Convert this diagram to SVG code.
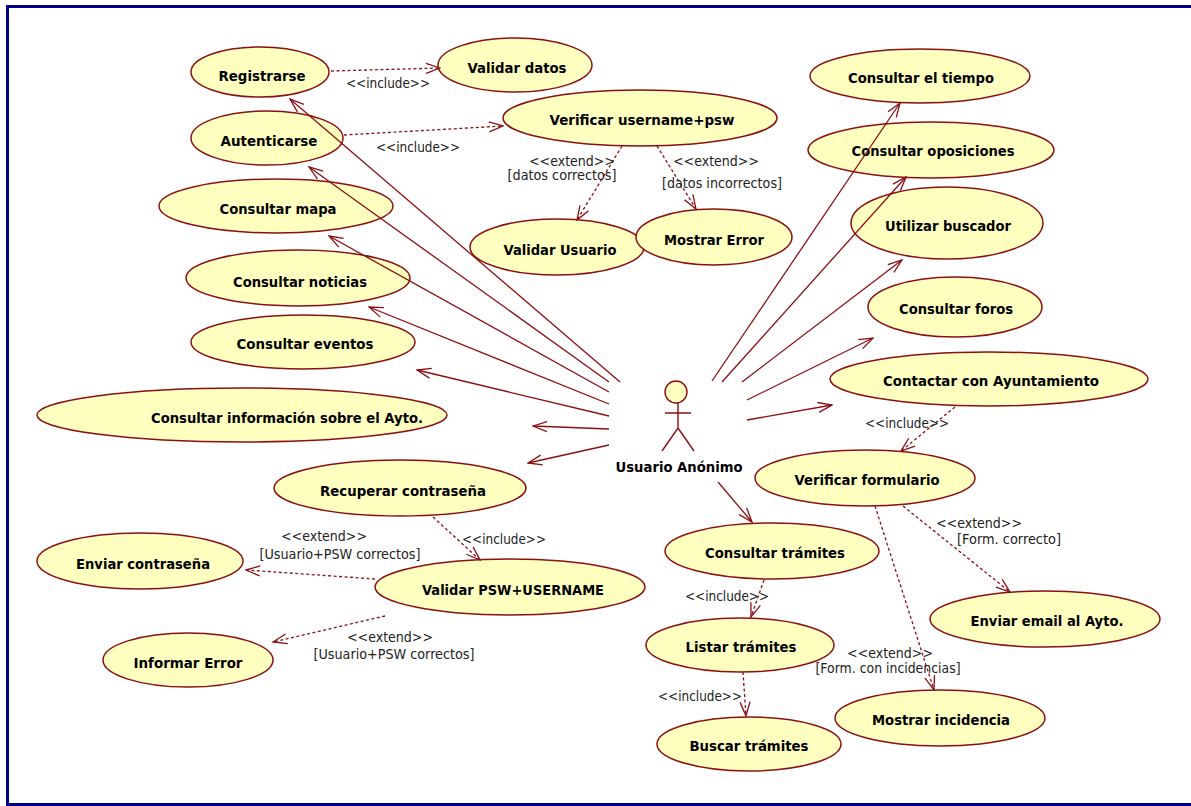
<svg xmlns="http://www.w3.org/2000/svg" width="1191" height="806" viewBox="0 0 1191 806">
<defs>
<marker id="open" viewBox="0 0 16 12" refX="15" refY="6" markerWidth="16" markerHeight="12" markerUnits="userSpaceOnUse" orient="auto"><path d="M1 1 L15 6 L1 11" fill="none" stroke="#8b0f14" stroke-width="1.3"/></marker>
</defs>
<style>
ellipse{fill:#ffffc0;stroke:#8b0f14;stroke-width:1.5}
.s{fill:none;stroke:#8b0f14;stroke-width:1.3;marker-end:url(#open)}
.d{fill:none;stroke:#8b0f14;stroke-width:1.3;stroke-dasharray:3 2.5;marker-end:url(#open)}
.b{font:bold 14.6px "DejaVu Sans",sans-serif;fill:#000;text-anchor:middle}
.l{font:13.7px "DejaVu Sans",sans-serif;fill:#222;text-anchor:middle}
.a{fill:none;stroke:#8b0f14;stroke-width:1.4}
</style>
<rect x="0" y="0" width="1191" height="806" fill="#fff"/>
<path d="M7.5 806V6.5H1191M7.5 804.5H1191" fill="none" stroke="#00008b" stroke-width="3"/>
<g id="nodes">
<g id="n1"><ellipse cx="260" cy="72" rx="69" ry="25"/><text class="b" x="262" y="81" textLength="87" lengthAdjust="spacingAndGlyphs">Registrarse</text></g>
<g id="n2"><ellipse cx="515" cy="65" rx="77" ry="27"/><text class="b" x="517" y="73" textLength="99" lengthAdjust="spacingAndGlyphs">Validar datos</text></g>
<g id="n3"><ellipse cx="640" cy="118" rx="137" ry="28"/><text class="b" x="642" y="125" textLength="185" lengthAdjust="spacingAndGlyphs">Verificar username+psw</text></g>
<g id="n4"><ellipse cx="267" cy="138" rx="76" ry="27"/><text class="b" x="269" y="146" textLength="97" lengthAdjust="spacingAndGlyphs">Autenticarse</text></g>
<g id="n5"><ellipse cx="276" cy="206" rx="117" ry="27"/><text class="b" x="278" y="214" textLength="117" lengthAdjust="spacingAndGlyphs">Consultar mapa</text></g>
<g id="n6"><ellipse cx="298" cy="278" rx="112" ry="28"/><text class="b" x="300" y="287" textLength="134" lengthAdjust="spacingAndGlyphs">Consultar noticias</text></g>
<g id="n7"><ellipse cx="303" cy="342" rx="112" ry="27"/><text class="b" x="305" y="349" textLength="137" lengthAdjust="spacingAndGlyphs">Consultar eventos</text></g>
<g id="n8"><ellipse cx="242" cy="415" rx="205" ry="27"/><text class="b" x="287" y="423" textLength="272" lengthAdjust="spacingAndGlyphs">Consultar información sobre el Ayto.</text></g>
<g id="n9"><ellipse cx="400" cy="488" rx="126" ry="28"/><text class="b" x="403" y="496" textLength="166" lengthAdjust="spacingAndGlyphs">Recuperar contraseña</text></g>
<g id="n10"><ellipse cx="140" cy="561" rx="103" ry="28"/><text class="b" x="143" y="569" textLength="134" lengthAdjust="spacingAndGlyphs">Enviar contraseña</text></g>
<g id="n11"><ellipse cx="510" cy="587" rx="135" ry="28"/><text class="b" x="513" y="595" textLength="182" lengthAdjust="spacingAndGlyphs">Validar PSW+USERNAME</text></g>
<g id="n12"><ellipse cx="188" cy="660" rx="85" ry="27"/><text class="b" x="188" y="668" textLength="109" lengthAdjust="spacingAndGlyphs">Informar Error</text></g>
<g id="n13"><ellipse cx="557" cy="247" rx="87" ry="28"/><text class="b" x="560" y="255" textLength="113" lengthAdjust="spacingAndGlyphs">Validar Usuario</text></g>
<g id="n14"><ellipse cx="714" cy="237" rx="78" ry="28"/><text class="b" x="714" y="245" textLength="100" lengthAdjust="spacingAndGlyphs">Mostrar Error</text></g>
<g id="n15"><ellipse cx="920" cy="76" rx="110" ry="27"/><text class="b" x="921" y="83" textLength="146" lengthAdjust="spacingAndGlyphs">Consultar el tiempo</text></g>
<g id="n16"><ellipse cx="931" cy="150" rx="123" ry="28"/><text class="b" x="933" y="156" textLength="163" lengthAdjust="spacingAndGlyphs">Consultar oposiciones</text></g>
<g id="n17"><ellipse cx="947" cy="223" rx="96" ry="36"/><text class="b" x="948" y="231" textLength="126" lengthAdjust="spacingAndGlyphs">Utilizar buscador</text></g>
<g id="n18"><ellipse cx="955" cy="307" rx="87" ry="30"/><text class="b" x="956" y="314" textLength="114" lengthAdjust="spacingAndGlyphs">Consultar foros</text></g>
<g id="n19"><ellipse cx="989" cy="379" rx="159" ry="27"/><text class="b" x="991" y="386" textLength="216" lengthAdjust="spacingAndGlyphs">Contactar con Ayuntamiento</text></g>
<g id="n20"><ellipse cx="865" cy="478" rx="110" ry="28"/><text class="b" x="867" y="485" textLength="145" lengthAdjust="spacingAndGlyphs">Verificar formulario</text></g>
<g id="n21"><ellipse cx="772" cy="551" rx="107" ry="28"/><text class="b" x="775" y="558" textLength="140" lengthAdjust="spacingAndGlyphs">Consultar trámites</text></g>
<g id="n22"><ellipse cx="1045" cy="619" rx="115" ry="28"/><text class="b" x="1047" y="626" textLength="153" lengthAdjust="spacingAndGlyphs">Enviar email al Ayto.</text></g>
<g id="n23"><ellipse cx="740" cy="645" rx="94" ry="27"/><text class="b" x="741" y="652" textLength="111" lengthAdjust="spacingAndGlyphs">Listar trámites</text></g>
<g id="n24"><ellipse cx="940" cy="718" rx="105" ry="28"/><text class="b" x="941" y="725" textLength="138" lengthAdjust="spacingAndGlyphs">Mostrar incidencia</text></g>
<g id="n25"><ellipse cx="749" cy="744" rx="92" ry="27"/><text class="b" x="749" y="751" textLength="119" lengthAdjust="spacingAndGlyphs">Buscar trámites</text></g>
<g id="actor"><circle cx="676" cy="392" r="11" fill="#ffffc0" stroke="#8b0f14" stroke-width="1.4"/><path class="a" d="M678 403V428M665 413H691M662 451L678 428L694 451"/><text class="b" x="679" y="472" textLength="127" lengthAdjust="spacingAndGlyphs">Usuario Anónimo</text></g>
</g>
<g id="connectors">
<path class="s" d="M620 382L290 99"/><path class="s" d="M609 382L309 167"/><path class="s" d="M609 392L329 236"/><path class="s" d="M609 404L369 307"/><path class="s" d="M609 416L417 370"/><path class="s" d="M609 429L533 426"/><path class="s" d="M609 445L528 463"/>
<path class="s" d="M712 381L900 103"/><path class="s" d="M722 382L906 177"/><path class="s" d="M742 382L902 260"/><path class="s" d="M747 400L873 338"/><path class="s" d="M747 420L832 405"/><path class="s" d="M718 482L752 522"/>
<path class="d" d="M331 71L440 68"/><path class="d" d="M344 135L503 126"/><path class="d" d="M622 146L577 220"/><path class="d" d="M657 146L696 209"/><path class="d" d="M955 407L901 451"/><path class="d" d="M433 517L480 560"/><path class="d" d="M375 579L246 570"/><path class="d" d="M385 616L273 642"/><path class="d" d="M903 506L1010 592"/><path class="d" d="M875 506L934 690"/><path class="d" d="M764 580L751 617"/><path class="d" d="M743 672L746 716"/>
</g>
<g id="labels">
<text class="l" x="388" y="88" textLength="84" lengthAdjust="spacingAndGlyphs">&lt;&lt;include&gt;&gt;</text>
<text class="l" x="418" y="152" textLength="84" lengthAdjust="spacingAndGlyphs">&lt;&lt;include&gt;&gt;</text>
<text class="l" x="572" y="166" textLength="86" lengthAdjust="spacingAndGlyphs">&lt;&lt;extend&gt;&gt;</text>
<text class="l" x="562" y="180" textLength="109" lengthAdjust="spacingAndGlyphs">[datos correctos]</text>
<text class="l" x="716" y="166" textLength="86" lengthAdjust="spacingAndGlyphs">&lt;&lt;extend&gt;&gt;</text>
<text class="l" x="722" y="188" textLength="120" lengthAdjust="spacingAndGlyphs">[datos incorrectos]</text>
<text class="l" x="907" y="428" textLength="84" lengthAdjust="spacingAndGlyphs">&lt;&lt;include&gt;&gt;</text>
<text class="l" x="504" y="544" textLength="84" lengthAdjust="spacingAndGlyphs">&lt;&lt;include&gt;&gt;</text>
<text class="l" x="324" y="541" textLength="86" lengthAdjust="spacingAndGlyphs">&lt;&lt;extend&gt;&gt;</text>
<text class="l" x="340" y="559" textLength="161" lengthAdjust="spacingAndGlyphs">[Usuario+PSW correctos]</text>
<text class="l" x="390" y="642" textLength="86" lengthAdjust="spacingAndGlyphs">&lt;&lt;extend&gt;&gt;</text>
<text class="l" x="394" y="659" textLength="161" lengthAdjust="spacingAndGlyphs">[Usuario+PSW correctos]</text>
<text class="l" x="979" y="528" textLength="86" lengthAdjust="spacingAndGlyphs">&lt;&lt;extend&gt;&gt;</text>
<text class="l" x="1009" y="544" textLength="104" lengthAdjust="spacingAndGlyphs">[Form. correcto]</text>
<text class="l" x="890" y="658" textLength="86" lengthAdjust="spacingAndGlyphs">&lt;&lt;extend&gt;&gt;</text>
<text class="l" x="888" y="673" textLength="145" lengthAdjust="spacingAndGlyphs">[Form. con incidencias]</text>
<text class="l" x="727" y="601" textLength="84" lengthAdjust="spacingAndGlyphs">&lt;&lt;include&gt;&gt;</text>
<text class="l" x="700" y="701" textLength="84" lengthAdjust="spacingAndGlyphs">&lt;&lt;include&gt;&gt;</text>
</g>
</svg>
